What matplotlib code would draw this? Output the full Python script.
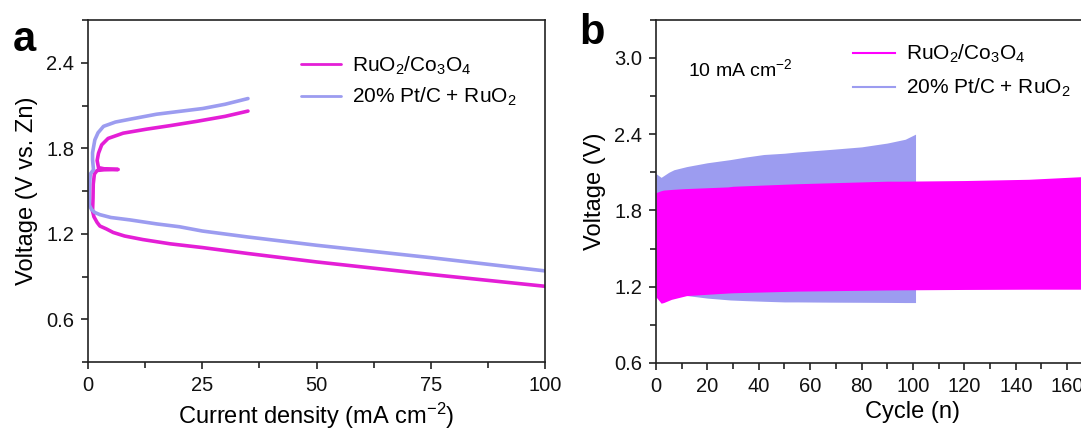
import matplotlib
matplotlib.use('Agg')
from matplotlib import pyplot as plt
from matplotlib.ticker import MultipleLocator

plt.rcParams['font.family'] = ['Liberation Sans', 'DejaVu Sans']
plt.rcParams['mathtext.fontset'] = 'custom'
plt.rcParams['mathtext.rm'] = 'Liberation Sans'
plt.rcParams['mathtext.it'] = 'Liberation Sans:italic'
plt.rcParams['mathtext.bf'] = 'Liberation Sans:bold'

# Panel a: polarization curves (current density mA cm-2, voltage V vs. Zn)
ruco_charge_j = [1.0, 1.1, 1.15, 1.4, 2.0, 3.5, 6.6, 3.5, 2.3, 2.0, 2.3, 3.0, 4.4, 7.7,
                 12.8, 18, 23.8, 30, 35]
ruco_charge_v = [1.36, 1.45, 1.55, 1.62, 1.645, 1.65, 1.652, 1.657, 1.665, 1.715, 1.766,
                 1.825, 1.87, 1.907, 1.935, 1.96, 1.99, 2.025, 2.062]
ruco_dis_j = [1.0, 1.3, 2.0, 2.6, 4, 5.5, 8, 12, 18, 25, 35, 50, 75, 100]
ruco_dis_v = [1.36, 1.32, 1.28, 1.255, 1.235, 1.21, 1.185, 1.16, 1.13, 1.104, 1.062,
              1.003, 0.915, 0.832]

ptc_charge_j = [0.3, 0.3, 0.5, 1.2, 1.0, 1.0, 1.5, 2.2, 3.4, 6, 9.2, 15, 25.1, 30, 35]
ptc_charge_v = [1.40, 1.52, 1.62, 1.65, 1.72, 1.77, 1.86, 1.91, 1.955, 1.985, 2.005,
                2.04, 2.08, 2.11, 2.15]
ptc_dis_j = [0.3, 0.8, 1.5, 2.6, 5, 9.2, 15, 20, 25, 35, 50, 75, 100]
ptc_dis_v = [1.40, 1.37, 1.35, 1.335, 1.315, 1.298, 1.27, 1.25, 1.22, 1.178, 1.12,
             1.033, 0.94]

# Panel b: cycling at 10 mA cm-2, upper/lower voltage envelope per cycle
ruco_cycle = [0, 2, 3, 6, 10, 12, 28, 30, 55, 90, 95, 120, 145, 165, 200]
ruco_upper = [1.94, 1.955, 1.96, 1.965, 1.97, 1.972, 1.985, 1.99, 2.01, 2.03, 2.03,
              2.035, 2.045, 2.065, 2.09]
ruco_lower = [1.12, 1.07, 1.075, 1.10, 1.12, 1.13, 1.15, 1.152, 1.165, 1.174, 1.175,
              1.178, 1.18, 1.18, 1.18]

ptc_cycle = [0, 2, 5, 7, 12, 16, 20, 29, 35, 42, 50, 55, 68, 80, 90, 97, 101]
ptc_upper = [2.09, 2.06, 2.10, 2.12, 2.145, 2.16, 2.175, 2.20, 2.22, 2.24, 2.25, 2.26,
             2.28, 2.30, 2.33, 2.36, 2.40]
ptc_lower = [1.16, 1.16, 1.16, 1.155, 1.13, 1.12, 1.11, 1.095, 1.09, 1.085, 1.08, 1.08,
             1.078, 1.077, 1.076, 1.075, 1.075]

magenta_a = '#E41ED6'
magenta_b = '#FF00FF'
lavender = '#9C9CF0'

fig = plt.figure(figsize=(10.81, 4.30), dpi=100)
ax1 = fig.add_axes([0.0814, 0.158, 0.4228, 0.795])
ax2 = fig.add_axes([0.6068, 0.156, 0.4755, 0.798])

# --- a ---
ax1.plot(ruco_charge_j, ruco_charge_v, color=magenta_a, lw=2.6,
         solid_capstyle='round', solid_joinstyle='round', label='RuO$_2$/Co$_3$O$_4$')
ax1.plot(ruco_dis_j, ruco_dis_v, color=magenta_a, lw=2.6,
         solid_capstyle='round', solid_joinstyle='round')
ax1.plot(ptc_charge_j, ptc_charge_v, color=lavender, lw=2.6,
         solid_capstyle='round', solid_joinstyle='round', label='20% Pt/C + RuO$_2$')
ax1.plot(ptc_dis_j, ptc_dis_v, color=lavender, lw=2.6,
         solid_capstyle='round', solid_joinstyle='round')
ax1.set_xlim(0, 100)
ax1.set_ylim(0.3, 2.7)
ax1.xaxis.set_major_locator(MultipleLocator(25))
ax1.xaxis.set_minor_locator(MultipleLocator(12.5))
ax1.yaxis.set_minor_locator(MultipleLocator(0.3))
ax1.set_yticks([0.6, 1.2, 1.8, 2.4])
ax1.set_xlabel('Current density (mA cm$^{-2}$)', fontsize=17, labelpad=4)
ax1.set_ylabel('Voltage (V vs. Zn)', fontsize=17, labelpad=6)
leg1 = ax1.legend(loc='upper left', bbox_to_anchor=(0.466, 0.90), frameon=False,
                  fontsize=15, handlelength=1.9, handletextpad=0.55, labelspacing=0.45,
                  borderpad=0, borderaxespad=0)
for ln in leg1.get_lines():
    ln.set_linewidth(2.0)
ax1.text(-0.165, 1.0, 'a', transform=ax1.transAxes, fontsize=30,
         fontweight='bold', va='top', ha='left')

# --- b ---
ax2.fill_between(ptc_cycle, ptc_lower, ptc_upper, color=lavender, lw=0)
ax2.fill_between(ruco_cycle, ruco_lower, ruco_upper, color=magenta_b, lw=0)
ax2.set_xlim(0, 200)
ax2.set_ylim(0.6, 3.3)
ax2.xaxis.set_major_locator(MultipleLocator(20))
ax2.xaxis.set_minor_locator(MultipleLocator(10))
ax2.set_yticks([0.6, 1.2, 1.8, 2.4, 3.0])
ax2.yaxis.set_minor_locator(MultipleLocator(0.3))
ax2.set_xlabel('Cycle (n)', fontsize=17, labelpad=4)
ax2.set_ylabel('Voltage (V)', fontsize=17, labelpad=6)
h1, = ax2.plot([], [], color=magenta_b, lw=1.5, label='RuO$_2$/Co$_3$O$_4$')
h2, = ax2.plot([], [], color=lavender, lw=1.5, label='20% Pt/C + RuO$_2$')
ax2.legend(handles=[h1, h2], loc='upper left', bbox_to_anchor=(0.384, 0.932),
           frameon=False, fontsize=15, handlelength=2.0, handletextpad=0.55,
           labelspacing=0.55, borderpad=0, borderaxespad=0)
ax2.text(0.063, 0.855, '10 mA cm$^{-2}$', transform=ax2.transAxes, fontsize=14,
         va='center', ha='left')
ax2.text(-0.15, 1.02, 'b', transform=ax2.transAxes, fontsize=30,
         fontweight='bold', va='top', ha='left')

for ax in (ax1, ax2):
    for s in ax.spines.values():
        s.set_linewidth(1.2)
        s.set_color('#222222')
    ax.tick_params(which='both', direction='out', length=5, width=1.2,
                   labelsize=14.5, pad=5, colors='#222222')
    ax.tick_params(which='minor', length=4)
    ax.tick_params(axis='both', labelcolor='#111111')

fig.savefig('out.png', dpi=100)
